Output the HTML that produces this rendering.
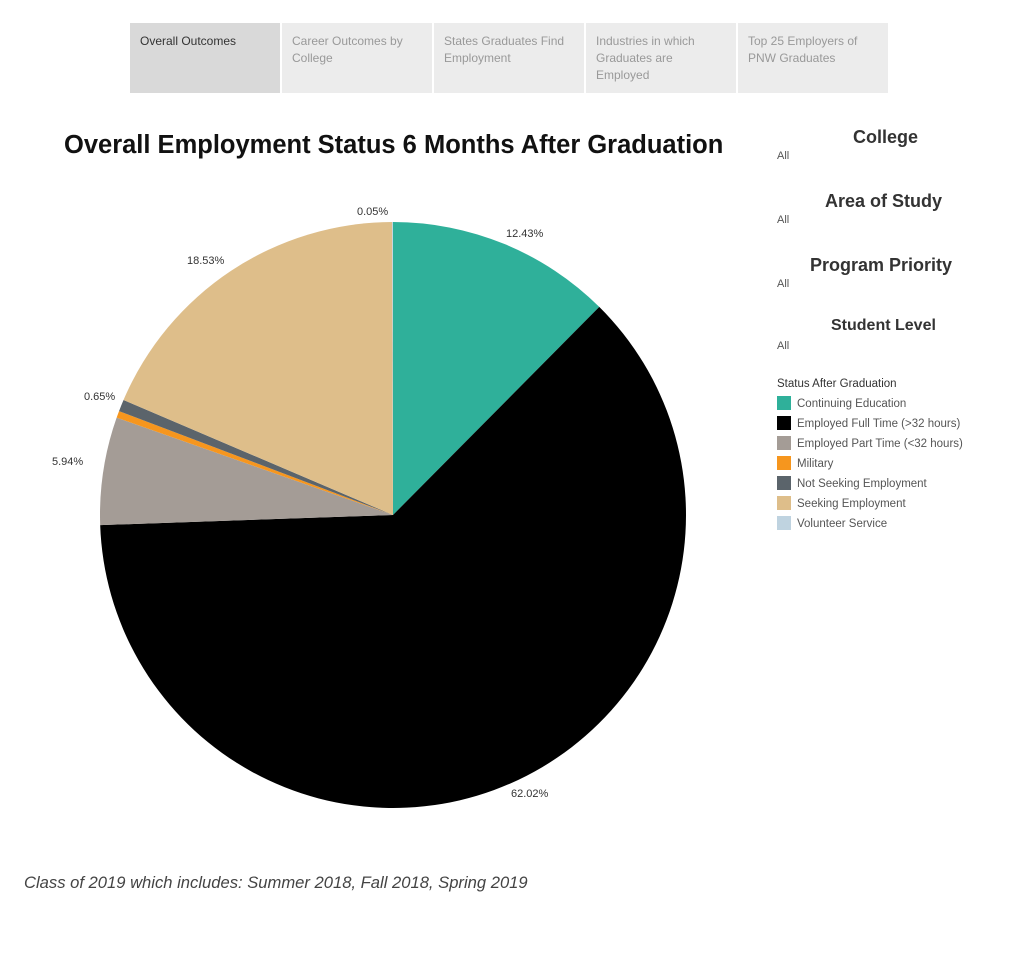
<!DOCTYPE html>
<html><head><meta charset="utf-8"><style>
body{margin:0;width:1016px;height:964px;background:#fff;font-family:"Liberation Sans",sans-serif;position:relative;overflow:hidden}
.tab{position:absolute;top:23px;height:70px;width:150px;background:#ececec;color:#999;font-size:12px;line-height:17px;padding:10px 10px;box-sizing:border-box}
.t{position:absolute;font-weight:bold;color:#333}
.all{position:absolute;left:777px;font-size:11px;color:#555}
.lg{position:absolute;left:777px;font-size:11.5px;color:#555}
.lg i{display:inline-block;width:14px;height:14px;vertical-align:-3px;margin-right:6px}
.pl{position:absolute;font-size:11px;color:#333}
</style></head><body>
<div class="tab" style="left:130px;background:#d9d9d9;color:#333">Overall Outcomes</div>
<div class="tab" style="left:282px">Career Outcomes by College</div>
<div class="tab" style="left:434px">States Graduates Find Employment</div>
<div class="tab" style="left:586px">Industries in which Graduates are Employed</div>
<div class="tab" style="left:738px">Top 25 Employers of PNW Graduates</div>
<div class="t" style="left:64px;top:131px;font-size:25.5px;color:#111">Overall Employment Status 6 Months After Graduation</div>
<div class="t" style="left:853px;top:127px;font-size:18px">College</div><div class="all" style="top:150px">All</div>
<div class="t" style="left:825px;top:191px;font-size:18px">Area of Study</div><div class="all" style="top:214px">All</div>
<div class="t" style="left:810px;top:255px;font-size:18px">Program Priority</div><div class="all" style="top:278px">All</div>
<div class="t" style="left:831px;top:317px;font-size:16px">Student Level</div><div class="all" style="top:340px">All</div>
<div class="lg" style="top:378px;color:#333">Status After Graduation</div>
<div class="lg" style="top:396px"><i style="background:#2fb09a"></i>Continuing Education</div>
<div class="lg" style="top:416px"><i style="background:#000"></i>Employed Full Time (&gt;32 hours)</div>
<div class="lg" style="top:436px"><i style="background:#a49c96"></i>Employed Part Time (&lt;32 hours)</div>
<div class="lg" style="top:456px"><i style="background:#f6961e"></i>Military</div>
<div class="lg" style="top:476px"><i style="background:#5b646b"></i>Not Seeking Employment</div>
<div class="lg" style="top:496px"><i style="background:#debe8a"></i>Seeking Employment</div>
<div class="lg" style="top:516px"><i style="background:#bfd3e0"></i>Volunteer Service</div>
<svg id="pie" width="1016" height="964" style="position:absolute;left:0;top:0"></svg>
<div class="pl" style="left:357px;top:206px">0.05%</div>
<div class="pl" style="left:506px;top:228px">12.43%</div>
<div class="pl" style="left:187px;top:255px">18.53%</div>
<div class="pl" style="left:84px;top:391px">0.65%</div>
<div class="pl" style="left:52px;top:456px">5.94%</div>
<div class="pl" style="left:511px;top:788px">62.02%</div>
<div style="position:absolute;left:24px;top:873px;font-size:16.6px;font-style:italic;color:#444">Class of 2019 which includes: Summer 2018, Fall 2018, Spring 2019</div>
<script>
var d=[[12.43,"#2fb09a"],[62.02,"#000"],[5.94,"#a49c96"],[0.38,"#f6961e"],[0.65,"#5b646b"],[18.53,"#debe8a"],[0.05,"#bfd3e0"]];
var cx=393,cy=515,r=293,a=0,s="",tot=100;
d.forEach(function(e){var a2=a+e[0]/tot*2*Math.PI;
var x1=cx+r*Math.sin(a),y1=cy-r*Math.cos(a),x2=cx+r*Math.sin(a2),y2=cy-r*Math.cos(a2);
s+='<path d="M'+cx+','+cy+'L'+x1+','+y1+'A'+r+','+r+' 0 '+((a2-a)>Math.PI?1:0)+' 1 '+x2+','+y2+'Z" fill="'+e[1]+'"/>';a=a2;});
document.getElementById("pie").innerHTML=s;
</script>
</body></html>
